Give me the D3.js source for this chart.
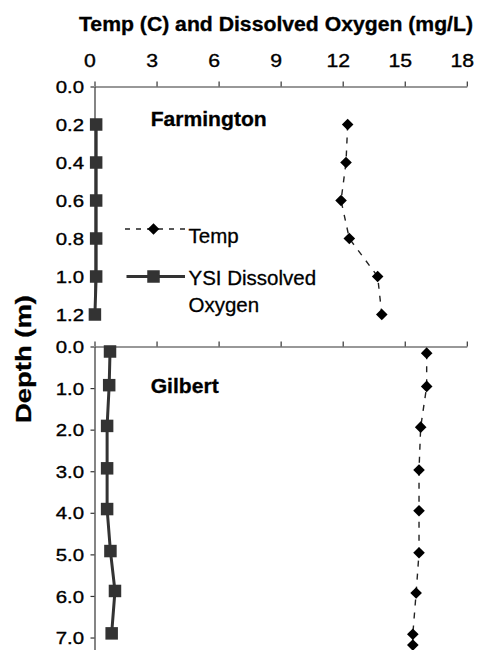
<!DOCTYPE html>
<html><head><meta charset="utf-8">
<script src="https://cdn.jsdelivr.net/npm/d3@7"></script>
<style>body{margin:0;background:#fff}svg{display:block}text{font-family:"Liberation Sans",Arial,sans-serif;fill:#000}</style>
</head><body><svg id="c" width="477" height="650"></svg>
<script>
// ---- data ----
const xTicks = [0, 3, 6, 9, 12, 15, 18];
const farmTicks = [0, 0.2, 0.4, 0.6, 0.8, 1.0, 1.2];
const farmDepth = [0.2, 0.4, 0.6, 0.8, 1.0, 1.2];
const farmTemp = [12.24, 12.16, 11.92, 12.32, 13.69, 13.89];
const farmDO = [0.08, 0.08, 0.08, 0.08, 0.08, 0.02];
const gilTicks = [0, 1, 2, 3, 4, 5, 6, 7];
const gilDODepth = [0.12, 0.93, 1.91, 2.93, 3.91, 4.92, 5.88, 6.9];
const gilDO = [0.75, 0.71, 0.61, 0.61, 0.61, 0.77, 0.99, 0.83];
const gilTempDepth = [0.16, 0.96, 1.94, 2.97, 3.95, 4.96, 5.93, 6.92, 7.18];
const gilTemp = [16.06, 16.06, 15.77, 15.69, 15.69, 15.69, 15.55, 15.39, 15.39];
const panelNames = ["Farmington", "Gilbert"];
const seriesNames = ["Temp", "YSI Dissolved", "Oxygen"];
const xTitle = "Temp (C) and Dissolved Oxygen (mg/L)";
const yTitle = "Depth (m)";

// ---- drawing ----
const svg = d3.select("#c");
const AX = "#333";
const FONT = '"Liberation Sans",Arial,sans-serif';
const x = d3.scaleLinear().domain([0, 18]).range([94.5, 466.8]);
const yFarm = d3.scaleLinear().domain([0, 1.2]).range([86.5, 314.5]);
const yGil = d3.scaleLinear().domain([0, 7.3]).range([346.5, 650]);

function stretch(sel, s, dx) {
  sel.each(function () {
    const t = d3.select(this);
    const tx = (+t.attr("x") || 0) + (dx || 0);
    t.attr("transform", `translate(${tx},0) scale(${s},1)`).attr("x", 0);
  });
}

const diamond = "M0,-5.8L5.8,0L0,5.8L-5.8,0Z";
const square = d3.symbol(d3.symbolSquare, 12.5 * 12.5)();

function panel(y, yTicks, tDepth, temps, dDepth, dos, labels) {
  const g = svg.append("g");
  const top = g.append("g").attr("transform", `translate(0,${y(0)})`)
    .call(d3.axisTop(x).tickValues(xTicks).tickSizeInner(5).tickSizeOuter(0).tickPadding(15)
      .tickFormat(labels ? d3.format("d") : () => ""));
  const left = g.append("g").attr("transform", `translate(${x(0)},0)`)
    .call(d3.axisLeft(y).tickValues(yTicks).tickSizeInner(4).tickSizeOuter(0).tickPadding(6.5)
      .tickFormat(d3.format(".1f")));
  [top, left].forEach(a => {
    a.select(".domain").attr("stroke", AX).attr("stroke-width", 1.2);
    a.selectAll(".tick line").attr("stroke", AX).attr("stroke-width", 1.2);
    a.selectAll("text").attr("font-family", FONT).attr("fill", "#000")
      .attr("stroke", "#000").attr("stroke-width", 0.35);
  });
  top.selectAll("text").attr("font-size", 18);
  stretch(top.selectAll("text"), 1.18, -5);
  left.selectAll("text").attr("font-size", 17).attr("dy", "0.36em");
  stretch(left.selectAll("text"), 1.2, 0);

  const tData = tDepth.map((d, i) => ({ d, v: temps[i] }));
  const dData = dDepth.map((d, i) => ({ d, v: dos[i] }));
  const line = d3.line().x(p => x(p.v)).y(p => y(p.d));
  g.append("path").attr("d", line(tData)).attr("fill", "none").attr("stroke", "#222")
    .attr("stroke-width", 1.4).attr("stroke-dasharray", "6,7");
  g.selectAll(".dm").data(tData).join("path").attr("d", diamond)
    .attr("transform", p => `translate(${x(p.v)},${y(p.d)})`).attr("fill", "#000");
  g.append("path").attr("d", line(dData)).attr("fill", "none").attr("stroke", "#333").attr("stroke-width", 3);
  g.selectAll(".sq").data(dData).join("path").attr("d", square)
    .attr("transform", p => `translate(${x(p.v)},${y(p.d)})`).attr("fill", "#333");
}

panel(yFarm, farmTicks, farmDepth, farmTemp, farmDepth, farmDO, true);
panel(yGil, gilTicks, gilTempDepth, gilTemp, gilDODepth, gilDO, false);

// titles
svg.append("text").attr("x", 79).attr("y", 31).attr("font-size", 19.5).attr("font-weight", "bold")
  .attr("stroke", "#000").attr("stroke-width", 0.3)
  .attr("textLength", 394).attr("lengthAdjust", "spacingAndGlyphs").text(xTitle);
svg.append("text").attr("transform", "translate(31,359) rotate(-90)").attr("text-anchor", "middle")
  .attr("font-size", 22).attr("font-weight", "bold").attr("stroke", "#000").attr("stroke-width", 0.3)
  .attr("textLength", 128).attr("lengthAdjust", "spacingAndGlyphs").text(yTitle);
svg.append("text").attr("x", 150.7).attr("y", 126).attr("font-size", 19.5).attr("font-weight", "bold")
  .attr("stroke", "#000").attr("stroke-width", 0.3)
  .attr("textLength", 116).attr("lengthAdjust", "spacingAndGlyphs").text(panelNames[0]);
svg.append("text").attr("x", 150.7).attr("y", 393).attr("font-size", 19.5).attr("font-weight", "bold")
  .attr("stroke", "#000").attr("stroke-width", 0.3)
  .attr("textLength", 68).attr("lengthAdjust", "spacingAndGlyphs").text(panelNames[1]);

// legend
const lg = svg.append("g");
lg.append("line").attr("x1", 125).attr("x2", 185).attr("y1", 229).attr("y2", 229)
  .attr("stroke", "#222").attr("stroke-width", 1.4).attr("stroke-dasharray", "5,6");
lg.append("path").attr("d", diamond).attr("transform", "translate(153.5,229)").attr("fill", "#000");
lg.append("line").attr("x1", 126.5).attr("x2", 185).attr("y1", 276.5).attr("y2", 276.5)
  .attr("stroke", "#333").attr("stroke-width", 3);
lg.append("path").attr("d", square).attr("transform", "translate(153.5,276.5)").attr("fill", "#333");
lg.selectAll(".lt").data([[seriesNames[0], 242.5], [seriesNames[1], 285], [seriesNames[2], 311.5]])
  .join("text").attr("x", 188.5).attr("y", d => d[1]).attr("font-size", 20.5)
  .attr("stroke", "#000").attr("stroke-width", 0.3).text(d => d[0]);
</script></body></html>
